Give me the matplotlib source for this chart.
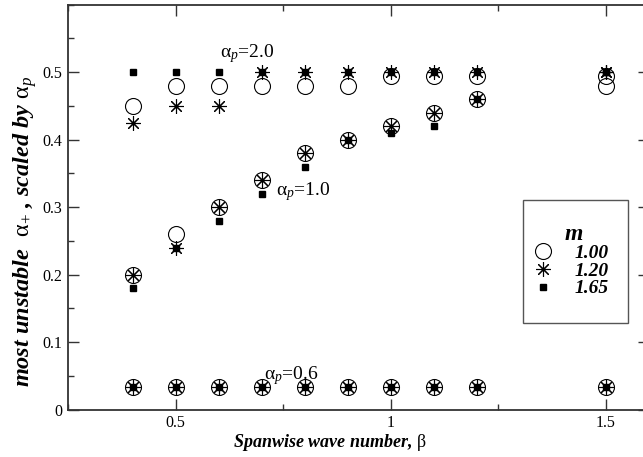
import numpy as np
import matplotlib
matplotlib.use("Agg")
import matplotlib.pyplot as plt
from matplotlib.patches import Rectangle
from matplotlib.ticker import MultipleLocator

plt.rcParams['font.family'] = ['Liberation Serif', 'DejaVu Serif']
plt.rcParams['mathtext.fontset'] = 'custom'
plt.rcParams['mathtext.rm'] = 'Liberation Serif'
plt.rcParams['mathtext.it'] = 'Liberation Serif:italic'
plt.rcParams['mathtext.bf'] = 'Liberation Serif:bold'

# spanwise wave numbers
beta = [0.4, 0.5, 0.6, 0.7, 0.8, 0.9, 1.0, 1.1, 1.2, 1.5]

# alpha_p = 2.0
m100_a20 = [0.45, 0.48, 0.48, 0.48, 0.48, 0.48, 0.495, 0.495, 0.495, 0.48]
m120_a20 = [0.425, 0.45, 0.45, 0.5, 0.5, 0.5, 0.5, 0.5, 0.5, 0.5]
m165_a20 = [0.5, 0.5, 0.5, 0.5, 0.5, 0.5, 0.5, 0.5, 0.5, 0.5]

# alpha_p = 1.0
m100_a10 = [0.2, 0.26, 0.3, 0.34, 0.38, 0.4, 0.42, 0.44, 0.46, 0.495]
m120_a10 = [0.2, 0.24, 0.3, 0.34, 0.38, 0.4, 0.42, 0.44, 0.46, 0.5]
m165_a10 = [0.18, 0.24, 0.28, 0.32, 0.36, 0.4, 0.41, 0.42, 0.46, 0.5]

# alpha_p = 0.6
m100_a06 = [0.0335] * 10
m120_a06 = [0.0335] * 10
m165_a06 = [0.0335] * 10

m_labels = ['1.00', '1.20', '1.65']

fig = plt.figure(figsize=(6.43, 4.57), dpi=100)
ax = fig.add_axes([0.1058, 0.1039, 0.9035, 0.8858])

circ = dict(marker='o', markersize=11.5, markerfacecolor='none', markeredgecolor='black',
            markeredgewidth=0.8, linestyle='none')
star = dict(marker=(8, 2, 0), markersize=10.5, markeredgecolor='black',
            markeredgewidth=0.8, linestyle='none')
sq = dict(marker='s', markersize=5, color='black', linestyle='none')

for ys in [m100_a20, m100_a10, m100_a06]:
    ax.plot(beta, ys, **circ)
for ys in [m120_a20, m120_a10, m120_a06]:
    ax.plot(beta, ys, **star)
for ys in [m165_a20, m165_a10, m165_a06]:
    ax.plot(beta, ys, **sq)

h1, = ax.plot([], [], **circ)
h2, = ax.plot([], [], **star)
h3, = ax.plot([], [], **sq)

ax.text(0.603, 0.522, r'$\mathrm{\alpha}_{p}$=2.0', fontsize=14, va='baseline')
ax.text(0.733, 0.318, r'$\mathrm{\alpha}_{p}$=1.0', fontsize=14, va='baseline')
ax.text(0.705, 0.045, r'$\mathrm{\alpha}_{p}$=0.6', fontsize=14, va='baseline')

ax.set_xlim(0.25, 1.6)
ax.set_ylim(0, 0.6)
ax.xaxis.set_minor_locator(MultipleLocator(0.25))
ax.yaxis.set_minor_locator(MultipleLocator(0.05))
ax.set_xticks([0.5, 1.0, 1.5])
ax.set_xticklabels(['0.5', '1', '1.5'])
ax.set_yticks([0, 0.1, 0.2, 0.3, 0.4, 0.5])
ax.set_yticklabels(['0', '0.1', '0.2', '0.3', '0.4', '0.5'])
ax.tick_params(which='both', direction='in', top=True, right=True, color='#333333',
               labelsize=11.5, width=1)
ax.tick_params(which='major', length=8, pad=4)
ax.tick_params(which='minor', length=4.3)
for s in ax.spines.values():
    s.set_color('#333333')
    s.set_linewidth(1.3)

ax.set_xlabel(r'Spanwise wave number, $\mathrm{\beta}$', fontsize=13,
              fontweight='bold', fontstyle='italic')
ax.xaxis.set_label_coords(0.451, -0.056)
ax.xaxis.label.set_va('top')
ax.set_ylabel(r'most unstable  $\mathrm{\alpha}_{+}$ , scaled by $\mathrm{\alpha}_{p}$',
              fontsize=17.5, fontweight='bold', fontstyle='italic')
ax.yaxis.set_label_coords(-0.074, 0.441)
ax.yaxis.label.set_va('center')

# legend frame
fig.add_artist(Rectangle((522.7 / 643, (457 - 323) / 457), 105 / 643, 123 / 457,
                         transform=fig.transFigure, fill=False, edgecolor='#555555',
                         linewidth=1.0, zorder=5))
leg = ax.legend([h1, h2, h3], m_labels, loc='upper left',
                bbox_to_anchor=(522.7 / 643, (457 - 208) / 457), bbox_transform=fig.transFigure,
                borderaxespad=0, frameon=False,
                prop=dict(family='Liberation Serif', weight='bold', style='italic', size=14),
                title='m', title_fontproperties=dict(family='Liberation Serif', weight='bold',
                                                     style='italic', size=17),
                labelspacing=0.0, handlelength=0.5, handletextpad=1.35, borderpad=0.8)

fig.savefig('out.png', dpi=100)
